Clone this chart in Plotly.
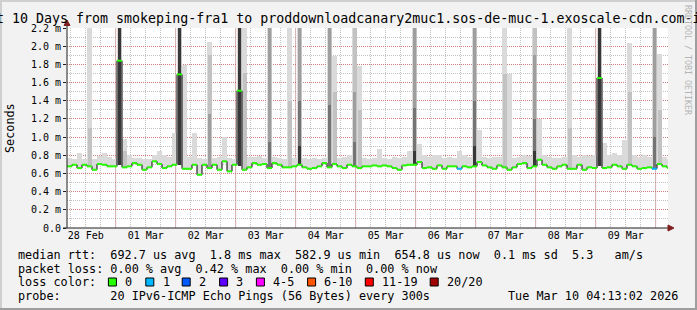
import plotly.graph_objects as go
import pandas as pd

# ---------------- data ----------------
step_start = "2026-02-28 04:31"          # first 2-hour step (left edge of plot)
x_range = ["2026-02-28 04:31", "2026-03-10 04:55"]
times = pd.date_range(step_start, periods=121, freq="2h")

# median rtt per 2-hour step, in ms
median = [
    0.678, 0.696, 0.659, 0.696, 0.678, 0.641, 0.703, 0.696, 0.678, 0.678,
    1.840, 0.667, 0.678, 0.714, 0.696, 0.641, 0.667, 0.733, 0.703, 0.659,
    0.678, 0.696, 1.690, 0.652, 0.652, 0.696, 0.586, 0.696, 0.659, 0.696,
    0.641, 0.733, 0.623, 0.696, 1.510, 0.641, 0.667, 0.714, 0.696, 0.703,
    0.659, 0.714, 0.696, 0.667, 0.667, 0.678, 0.696, 0.667, 0.652, 0.659,
    0.678, 0.714, 0.667, 0.703, 0.678, 0.659, 0.696, 0.678, 0.659, 0.678,
    0.678, 0.688, 0.678, 0.688, 0.678, 0.659, 0.641, 0.688, 0.696, 0.696,
    0.725, 0.659, 0.667, 0.652, 0.688, 0.652, 0.678, 0.678, 0.652, 0.678,
    0.667, 0.678, 0.725, 0.688, 0.667, 0.652, 0.688, 0.667, 0.641, 0.667,
    0.703, 0.714, 0.659, 0.678, 0.751, 0.696, 0.667, 0.652, 0.678, 0.696,
    0.652, 0.652, 0.696, 0.641, 0.667, 0.659, 1.650, 0.659, 0.667, 0.696,
    0.678, 0.652, 0.696, 0.678, 0.652, 0.659, 0.667, 0.652, 0.703, 0.678,
    0.659,
]

# top of the lightest smoke per step, in ms (values above 2.2 run off the chart)
smoke_top = [
    0.77, 0.76, 0.83, 0.76, 2.30, 0.76, 0.79, 0.82, 0.78, 0.76,
    2.30, 0.98, 0.80, 0.77, 0.77, 0.76, 0.76, 0.80, 0.85, 0.80,
    0.78, 1.05, 2.30, 1.79, 0.78, 1.05, 0.77, 0.76, 2.05, 0.77,
    0.78, 1.00, 0.77, 0.76, 2.30, 2.30, 0.78, 0.78, 0.79, 0.77,
    2.30, 0.78, 0.77, 0.76, 2.30, 0.77, 2.30, 0.77, 0.76, 0.77,
    0.76, 0.77, 2.30, 1.89, 0.77, 0.78, 0.80, 2.30, 1.78, 0.77,
    0.76, 0.77, 0.87, 0.77, 0.76, 0.78, 0.77, 0.78, 0.85, 2.30,
    0.92, 0.80, 0.78, 0.80, 0.80, 0.77, 0.78, 0.77, 0.85, 0.80,
    0.78, 2.30, 1.08, 0.78, 0.77, 0.78, 0.78, 2.30, 1.69, 0.77,
    0.78, 0.80, 0.79, 2.30, 1.20, 0.80, 0.78, 0.77, 0.77, 0.78,
    2.30, 0.80, 0.78, 0.80, 0.79, 0.80, 2.30, 0.93, 0.80, 0.82,
    0.80, 0.97, 2.04, 0.80, 0.78, 0.80, 0.78, 2.30, 1.91, 0.78,
    0.76,
]

# bottom of the smoke where it lies below the median (step index -> ms)
smoke_low = {10: 0.69, 22: 0.69, 34: 0.68, 106: 0.68}

# darker smoke layers (step index -> top in ms)
smoke_l2 = {4: 1.10, 10: 2.3, 11: 0.85, 22: 2.3, 28: 1.90, 34: 2.3, 35: 1.70,
            40: 2.3, 44: 1.40, 46: 2.3, 52: 2.3, 53: 1.50, 57: 2.3, 58: 1.30,
            69: 2.3, 81: 2.3, 87: 1.69, 93: 2.3, 100: 1.10, 106: 2.3,
            112: 1.50, 117: 2.3, 118: 1.30}
smoke_l3 = {10: 2.3, 22: 2.3, 28: 1.25, 34: 2.3, 40: 2.3, 46: 2.3, 52: 2.3,
            57: 1.50, 69: 2.3, 81: 2.3, 93: 1.90, 106: 2.3, 117: 2.3}
smoke_l4 = {10: 2.3, 22: 2.3, 34: 2.3, 40: 0.95, 46: 1.40, 52: 1.35,
            57: 0.95, 69: 1.32, 81: 1.40, 93: 1.20, 106: 2.3, 117: 1.00}
smoke_l5 = {10: 2.3, 22: 2.3, 34: 2.3, 46: 0.90, 69: 0.85, 81: 0.90,
            93: 0.85, 106: 2.3}

# lost pings per step (all others 0)
loss_pings = {78: 1, 117: 1}

y_tick_vals = [0.0, 0.2, 0.4, 0.6, 0.8, 1.0, 1.2, 1.4, 1.6, 1.8, 2.0, 2.2]
y_tick_text = ["0.0", "0.2 m", "0.4 m", "0.6 m", "0.8 m", "1.0 m", "1.2 m",
               "1.4 m", "1.6 m", "1.8 m", "2.0 m", "2.2 m"]
x_tick_vals = ["2026-02-28 12:00", "2026-03-01 12:00", "2026-03-02 12:00",
               "2026-03-03 12:00", "2026-03-04 12:00", "2026-03-05 12:00",
               "2026-03-06 12:00", "2026-03-07 12:00", "2026-03-08 12:00",
               "2026-03-09 12:00"]
x_tick_text = ["28 Feb", "01 Mar", "02 Mar", "03 Mar", "04 Mar", "05 Mar",
               "06 Mar", "07 Mar", "08 Mar", "09 Mar"]
day_lines = ["2026-03-01", "2026-03-02", "2026-03-03", "2026-03-04",
             "2026-03-05", "2026-03-06", "2026-03-07", "2026-03-08",
             "2026-03-09", "2026-03-10"]

title = ("Last 10 Days from smokeping-fra1 to "
         "proddownloadcanary2muc1.sos-de-muc-1.exoscale-cdn.com-ipv6")
legend_rows = [
    "median rtt:  692.7 us avg  1.8 ms max  582.9 us min  654.8 us now  0.1 ms sd  5.3   am/s",
    "packet loss: 0.00 % avg  0.42 % max  0.00 % min  0.00 % now",
    "loss color:",
    "probe:       20 IPv6-ICMP Echo Pings (56 Bytes) every 300s",
]
date_text = "Tue Mar 10 04:13:02 2026"
loss_labels = ["0", "1", "2", "3", "4-5", "6-10", "11-19", "20/20"]
loss_box_colors = ["#26ff00", "#00b8ff", "#0059ff", "#5e00ff", "#ff00ff",
                   "#ff5500", "#ff0000", "#a10000"]

# ---------------- geometry / style ----------------
W, H = 697, 310
ML, MR, MT, MB = 67, 29, 28, 82
PW, PH = W - ML - MR, H - MT - MB
FONT = "DejaVu Sans Mono"
GRID = "rgba(143,143,143,0.55)"
MGRID = "rgba(222,79,79,0.6)"
AXIS = "#1f1f1f"
ARROW = "#801f1f"


def fx(px):
    return (px - ML) / PW


def fy(py):
    return (H - MB - py) / PH


STEP = pd.Timedelta(hours=2)
STEP_MS = 2 * 3600 * 1000
centers = [t + STEP / 2 for t in times]

fig = go.Figure()


def add_layer(tops, color, width_ms):
    xs, bases, hs = [], [], []
    for i, top in tops.items():
        b = min(median[i], smoke_low.get(i, median[i]))
        xs.append(centers[i])
        bases.append(b)
        hs.append(top - b)
    fig.add_trace(go.Bar(x=xs, y=hs, base=bases, width=width_ms,
                         marker=dict(color=color, line=dict(width=0)),
                         hoverinfo="skip", showlegend=False))


add_layer({i: v for i, v in enumerate(smoke_top)}, "#dadada", STEP_MS)
add_layer(smoke_l2, "#c2c2c2", STEP_MS * 0.8)
add_layer(smoke_l3, "#9e9e9e", STEP_MS * 0.75)
add_layer(smoke_l4, "#747474", STEP_MS * 0.75)
add_layer(smoke_l5, "#383838", STEP_MS * 0.7)

# median: thin dark step line
fig.add_trace(go.Scatter(
    x=list(times) + [times[-1] + STEP], y=median + [median[-1]],
    mode="lines", line=dict(color="#000000", width=1, shape="hv"),
    hoverinfo="skip", showlegend=False))

# median: loss-coloured horizontal pieces
loss_map = {0: loss_box_colors[0], 1: loss_box_colors[1], 2: loss_box_colors[2],
            3: loss_box_colors[3]}
segs = {}
for i, v in enumerate(median):
    c = loss_map.get(loss_pings.get(i, 0), loss_box_colors[4])
    t0 = times[i]
    t1 = t0 + STEP
    xs, ys = segs.setdefault(c, ([], []))
    xs.extend([t0.strftime("%Y-%m-%d %H:%M"), t1.strftime("%Y-%m-%d %H:%M"), None])
    ys.extend([v, v, None])
for c, (xs, ys) in segs.items():
    fig.add_trace(go.Scatter(x=xs, y=ys, mode="lines",
                             line=dict(color=c, width=2),
                             hoverinfo="skip", showlegend=False,
                             connectgaps=False))

shapes = []
for d in day_lines:
    shapes.append(dict(type="line", xref="x", yref="paper", x0=d, x1=d, y0=0, y1=1,
                       line=dict(color=MGRID, width=1, dash="1px,1px"),
                       layer="between"))
# axes with arrows
shapes.append(dict(type="line", xref="paper", yref="paper", x0=0, x1=0,
                   y0=0, y1=fy(25), line=dict(color=AXIS, width=1)))
shapes.append(dict(type="path", xref="paper", yref="paper",
                   path=f"M {fx(ML-3)},{fy(25.5)} L {fx(ML+3)},{fy(25.5)} L {fx(ML)},{fy(20)} Z",
                   fillcolor=ARROW, line=dict(color=ARROW, width=1)))
shapes.append(dict(type="line", xref="paper", yref="paper", x0=fx(63), x1=fx(668.5),
                   y0=0, y1=0, line=dict(color=AXIS, width=1)))
shapes.append(dict(type="path", xref="paper", yref="paper",
                   path=f"M {fx(668)},{fy(H-MB-3)} L {fx(668)},{fy(H-MB+3)} L {fx(674)},{fy(H-MB)} Z",
                   fillcolor=ARROW, line=dict(color=ARROW, width=1)))
# image frame
shapes.append(dict(type="line", xref="paper", yref="paper", x0=fx(0), x1=fx(W),
                   y0=fy(1), y1=fy(1), line=dict(color="#cfcfcf", width=2)))
shapes.append(dict(type="line", xref="paper", yref="paper", x0=fx(1), x1=fx(1),
                   y0=fy(0), y1=fy(H), line=dict(color="#cfcfcf", width=2)))
shapes.append(dict(type="line", xref="paper", yref="paper", x0=fx(0), x1=fx(W),
                   y0=fy(H - 1), y1=fy(H - 1), line=dict(color="#9e9e9e", width=2)))
shapes.append(dict(type="line", xref="paper", yref="paper", x0=fx(W - 1), x1=fx(W - 1),
                   y0=fy(0), y1=fy(H), line=dict(color="#9e9e9e", width=2)))

# loss colour boxes
box_x = [108.4, 145.8, 182.2, 219.6, 256.4, 307.6, 365.3, 430.2]
label_x = [123.1, 160.9, 196.9, 234.2, 271.1, 321.8, 380.0, 444.9]
for bx, c in zip(box_x, loss_box_colors):
    shapes.append(dict(type="rect", xref="paper", yref="paper",
                       x0=fx(bx), x1=fx(bx + 8), y0=fy(286), y1=fy(278),
                       fillcolor=c, line=dict(color="#000000", width=1)))

NB = "\u00a0"
ann = []
ann.append(dict(text=title, x=fx(W / 2), y=fy(18.5), xref="paper", yref="paper",
                xanchor="center", yanchor="middle", showarrow=False,
                font=dict(family=FONT, size=13.3, color="#000000")))
ann.append(dict(text="RRDTOOL / TOBI OETIKER", x=fx(688), y=fy(60), xref="paper",
                yref="paper", xanchor="center", yanchor="middle", showarrow=False,
                textangle=90, font=dict(family=FONT, size=8.3, color="#b4b4b4")))
ann.append(dict(text="Seconds", x=fx(10), y=fy(128), xref="paper", yref="paper",
                xanchor="center", yanchor="middle", showarrow=False, textangle=-90,
                font=dict(family=FONT, size=11.8, color="#000000")))
row_y = [254.5, 268.5, 282.3, 296.0]
for txt, ry in zip(legend_rows, row_y):
    ann.append(dict(text=txt.replace(" ", NB), x=fx(16), y=fy(ry), xref="paper",
                    yref="paper", xanchor="left", yanchor="middle", showarrow=False,
                    font=dict(family=FONT, size=11.8, color="#000000")))
for lx, lt in zip(label_x, loss_labels):
    ann.append(dict(text=lt, x=fx(lx), y=fy(282.3), xref="paper", yref="paper",
                    xanchor="left", yanchor="middle", showarrow=False,
                    font=dict(family=FONT, size=11.8, color="#000000")))
ann.append(dict(text=date_text.replace(" ", NB), x=fx(680), y=fy(296.0), xref="paper",
                yref="paper", xanchor="right", yanchor="middle", showarrow=False,
                font=dict(family=FONT, size=11.8, color="#000000")))

fig.update_layout(
    width=W, height=H, margin=dict(l=ML, r=MR, t=MT, b=MB, pad=0),
    paper_bgcolor="#f2f2f2", plot_bgcolor="#ffffff",
    barmode="overlay", bargap=0, showlegend=False, hovermode=False,
    font=dict(family=FONT, size=10, color="#000000"),
    shapes=shapes, annotations=ann,
    xaxis=dict(type="date", range=x_range, tickmode="array",
               tickvals=x_tick_vals, ticktext=x_tick_text, ticks="",
               showgrid=False, zeroline=False, showline=False,
               tickfont=dict(family=FONT, size=10, color="#000000"),
               minor=dict(tick0="2026-02-28", dtick=6 * 3600 * 1000, showgrid=True,
                          gridcolor=GRID, griddash="1px,1px", gridwidth=1, ticks=""),
               fixedrange=True),
    yaxis=dict(range=[0, 2.2], tickmode="array", tickvals=y_tick_vals,
               ticktext=y_tick_text, ticks="outside", ticklen=3, tickcolor=AXIS,
               tickwidth=1, showgrid=True, gridcolor=MGRID, griddash="1px,1px",
               gridwidth=1, zeroline=False, showline=False,
               tickfont=dict(family=FONT, size=10, color="#000000"),
               minor=dict(dtick=0.1, tick0=0, showgrid=True, gridcolor=GRID,
                          griddash="1px,1px", gridwidth=1, ticks=""),
               fixedrange=True),
)

fig.write_html("out.html", config={"displayModeBar": False})
